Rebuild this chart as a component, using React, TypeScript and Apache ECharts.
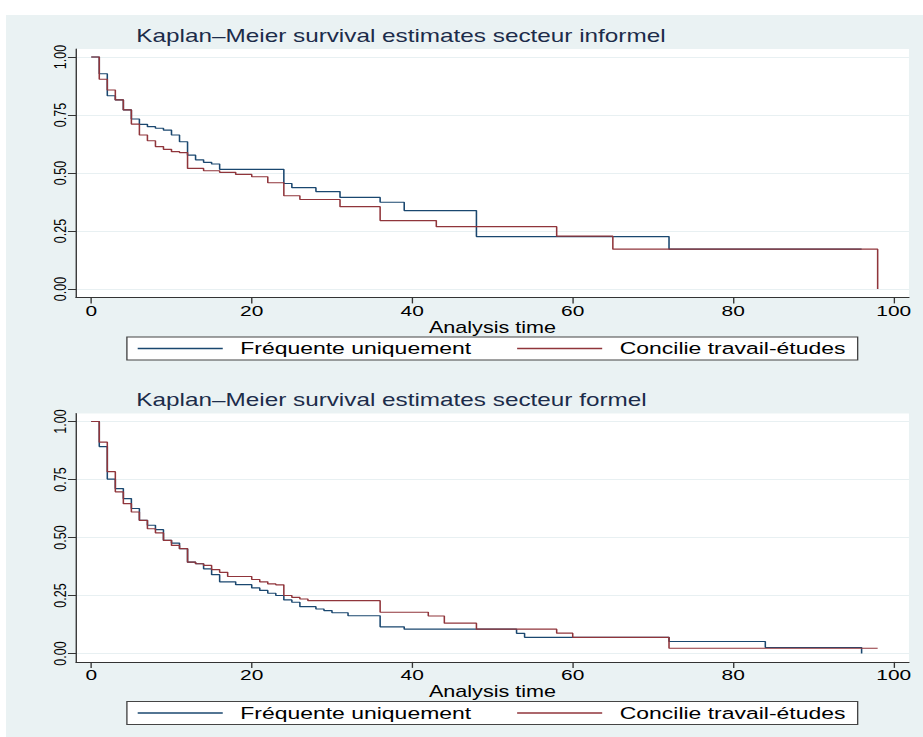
import React, { useEffect, useRef } from "react";
import * as echarts from "echarts";

// ---- data ----
const TITLES = [
  "Kaplan–Meier survival estimates secteur informel",
  "Kaplan–Meier survival estimates secteur formel",
];
const SERIES_NAMES = ["Fréquente uniquement", "Concilie travail-études"];
const X_NAME = "Analysis time";
const TIME_TICKS = [0, 20, 40, 60, 80, 100];
const SURV_TICKS = [0, 0.25, 0.5, 0.75, 1];

// secteur informel
const INF_FREQ_T = [0, 1, 2, 3, 4, 5, 6, 7, 8, 9, 10, 11, 12, 13, 14, 15, 16, 24, 25, 28, 31, 36, 39, 48, 72, 96];
const INF_FREQ_S = [1, 0.928, 0.833, 0.815, 0.772, 0.733, 0.71, 0.7, 0.693, 0.685, 0.664, 0.635, 0.577, 0.557, 0.546, 0.539, 0.516, 0.455, 0.437, 0.42, 0.395, 0.374, 0.338, 0.226, 0.172, 0.172];
const INF_CONC_T = [0, 1, 2, 3, 4, 5, 6, 7, 8, 9, 10, 11, 12, 14, 16, 18, 20, 22, 24, 26, 31, 36, 43, 58, 65, 98];
const INF_CONC_S = [1, 0.904, 0.858, 0.815, 0.772, 0.711, 0.664, 0.639, 0.614, 0.602, 0.592, 0.588, 0.52, 0.51, 0.503, 0.494, 0.484, 0.458, 0.402, 0.386, 0.355, 0.295, 0.269, 0.228, 0.172, 0];

// secteur formel
const FOR_FREQ_T = [0, 1, 2, 3, 4, 5, 6, 7, 8, 9, 10, 11, 12, 13, 14, 15, 16, 18, 20, 21, 22, 23, 24, 25, 26, 28, 29, 30, 32, 36, 39, 53, 54, 72, 84, 96];
const FOR_FREQ_S = [1, 0.892, 0.752, 0.711, 0.668, 0.625, 0.574, 0.553, 0.534, 0.488, 0.476, 0.452, 0.394, 0.387, 0.365, 0.34, 0.309, 0.297, 0.283, 0.272, 0.26, 0.25, 0.231, 0.221, 0.202, 0.192, 0.185, 0.176, 0.163, 0.115, 0.105, 0.087, 0.07, 0.052, 0.026, 0];
const FOR_CONC_T = [0, 1, 2, 3, 4, 5, 6, 7, 8, 9, 10, 11, 12, 13, 14, 15, 16, 17, 20, 21, 22, 23, 24, 25, 26, 27, 36, 42, 44, 48, 58, 60, 72, 98];
const FOR_CONC_S = [1, 0.911, 0.784, 0.697, 0.646, 0.61, 0.574, 0.538, 0.52, 0.488, 0.466, 0.452, 0.394, 0.387, 0.38, 0.362, 0.35, 0.332, 0.319, 0.309, 0.3, 0.296, 0.25, 0.242, 0.235, 0.228, 0.178, 0.162, 0.131, 0.105, 0.088, 0.07, 0.023, 0.023];

const COLORS = ["#1A476F", "#90353B"];
const STRETCH = 1.35;
const W = 684;
const H = 737;

const pairs = (t: number[], s: number[]) => t.map((v, i) => [v, s[i]]);

export default function App() {
  const ref = useRef<HTMLDivElement>(null);
  useEffect(() => {
    if (!ref.current) return;
    const chart = echarts.init(ref.current, null, { renderer: "svg", width: W, height: H });
    const font = "'Liberation Sans', Arial, sans-serif";
    const OFF = 364.5;
    const gridTop = [48.9, 48.9 + OFF];
    const mkX = (i: number) => ({
      type: "value",
      gridIndex: i,
      min: -1.9,
      max: 101.9,
      name: X_NAME,
      nameLocation: "middle",
      nameGap: 19,
      nameTextStyle: { fontSize: 16, color: "#000", fontFamily: font },
      axisLine: { show: true, onZero: false, lineStyle: { color: "#333", width: 1 } },
      axisTick: { show: true, length: 6, customValues: TIME_TICKS, lineStyle: { color: "#333" } },
      axisLabel: { customValues: TIME_TICKS, margin: 5, fontSize: 15.5, color: "#000", fontFamily: font },
      splitLine: { show: false },
    });
    const mkY = (i: number) => ({
      type: "value",
      gridIndex: i,
      min: -0.036,
      max: 1.035,
      axisLine: { show: true, onZero: false, lineStyle: { color: "#333", width: 1 } },
      axisTick: { show: true, length: 6, customValues: SURV_TICKS, lineStyle: { color: "#333" } },
      axisLabel: {
        customValues: SURV_TICKS,
        rotate: 90,
        margin: 5,
        fontSize: 12.5,
        color: "#000",
        fontFamily: font,
        formatter: (v: number) => v.toFixed(2),
      },
      splitLine: { show: true, lineStyle: { color: "#E8F0F2", width: 1 } },
    });
    const mkSeries = (name: string, data: number[][], gi: number, color: string) => ({
      type: "line",
      name,
      step: "end",
      xAxisIndex: gi,
      yAxisIndex: gi,
      showSymbol: false,
      symbol: "none",
      data,
      lineStyle: { color, width: 1.15 },
      itemStyle: { color },
      silent: true,
    });
    const mkLegend = (top: number) => ({
      data: SERIES_NAMES,
      left: 94,
      top,
      orient: "horizontal",
      padding: [3, 9, 3, 8],
      itemGap: 34,
      itemWidth: 63,
      itemHeight: 1.5,
      icon: "rect",
      backgroundColor: "#fff",
      borderColor: "#444",
      borderWidth: 1,
      borderRadius: 0,
      selectedMode: false,
      textStyle: { fontSize: 17, color: "#000", fontFamily: font, padding: [0, 0, 0, 8] },
    });
    chart.setOption({
      animation: false,
      title: TITLES.map((t, i) => ({
        text: t,
        left: 101,
        top: 27 + i * OFF,
        padding: 0,
        textStyle: { fontSize: 18, fontWeight: "normal", color: "#1C2C4A", fontFamily: font },
      })),
      grid: gridTop.map((top) => ({
        left: 56.3,
        right: 10.7,
        top,
        height: 248.5,
        show: true,
        backgroundColor: "#fff",
        borderWidth: 0,
        containLabel: false,
      })),
      xAxis: [mkX(0), mkX(1)],
      yAxis: [mkY(0), mkY(1)],
      legend: [mkLegend(337), mkLegend(337 + OFF)],
      series: [
        mkSeries(SERIES_NAMES[0], pairs(INF_FREQ_T, INF_FREQ_S), 0, COLORS[0]),
        mkSeries(SERIES_NAMES[1], pairs(INF_CONC_T, INF_CONC_S), 0, COLORS[1]),
        mkSeries(SERIES_NAMES[0], pairs(FOR_FREQ_T, FOR_FREQ_S), 1, COLORS[0]),
        mkSeries(SERIES_NAMES[1], pairs(FOR_CONC_T, FOR_CONC_S), 1, COLORS[1]),
      ],
    });
    return () => chart.dispose();
  }, []);
  return (
    <div style={{ position: "fixed", left: 0, top: 0, width: 923, height: 737, overflow: "hidden", background: "#fff" }}>
      <div style={{ position: "absolute", left: 6, top: 15, right: 0, bottom: 0, background: "#EAF2F3" }} />
      <div
        ref={ref}
        style={{
          position: "absolute",
          left: 0,
          top: 0,
          width: W,
          height: H,
          transform: `scaleX(${STRETCH})`,
          transformOrigin: "0 0",
        }}
      />
    </div>
  );
}
